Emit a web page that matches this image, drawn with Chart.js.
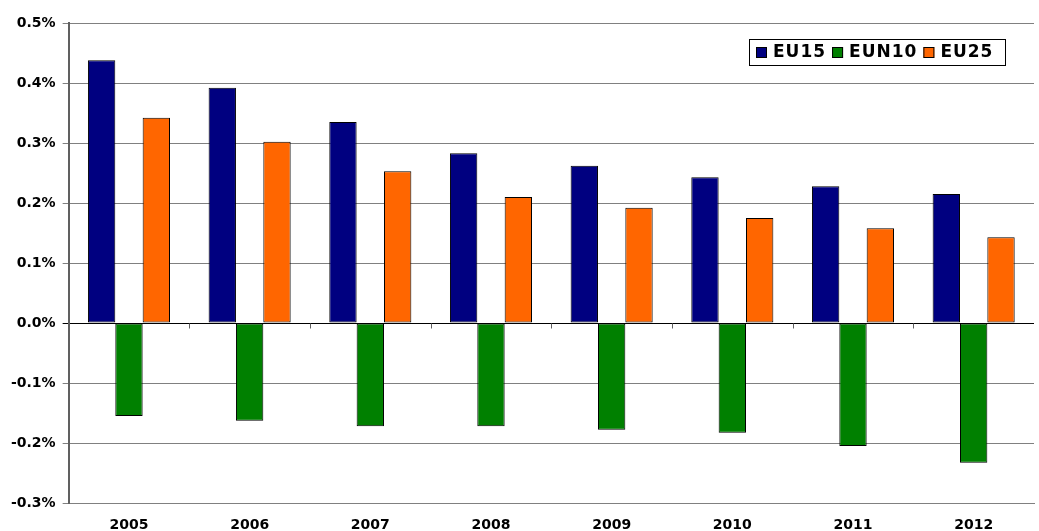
<!DOCTYPE html>
<html>
<head>
<meta charset="utf-8">
<script src="https://cdn.jsdelivr.net/npm/chart.js@4"></script>
<style>
  html, body { margin: 0; padding: 0; background: #fff; }
  #wrap { width: 1039px; height: 531px; }
</style>
</head>
<body>
<div id="wrap"><canvas id="myChart"></canvas></div>
<script>
var years = ["2005", "2006", "2007", "2008", "2009", "2010", "2011", "2012"];
var eu15 = [0.438, 0.392, 0.335, 0.283, 0.262, 0.243, 0.228, 0.215];
var eun10 = [-0.155, -0.163, -0.172, -0.172, -0.178, -0.183, -0.205, -0.233];
var eu25 = [0.342, 0.302, 0.253, 0.210, 0.192, 0.175, 0.158, 0.143];

var FONT = '"DejaVu Sans", Verdana, sans-serif';

// legend box inside the plot + little category ticks on the zero line
var extras = {
  id: 'extras',
  afterDatasetsDraw: function (chart) {
    var c = chart.ctx;
    var xs = chart.scales.x, ys = chart.scales.y;
    var y0 = Math.round(ys.getPixelForValue(0)) + 0.5;
    var half = (xs.getPixelForValue(1) - xs.getPixelForValue(0)) / 2;
    c.save();
    c.strokeStyle = '#606060';
    c.lineWidth = 1;
    for (var i = 1; i < years.length; i++) {
      var px = Math.round(xs.getPixelForValue(i) - half) + 0.5;
      c.beginPath();
      c.moveTo(px, y0);
      c.lineTo(px, y0 + 5);
      c.stroke();
    }
    c.restore();
  },
  afterDraw: function (chart) {
    var c = chart.ctx;
    var x0 = 749, y0 = 39, w = 256, h = 26;
    c.save();
    c.fillStyle = '#fff';
    c.fillRect(x0, y0, w, h);
    c.strokeStyle = '#000';
    c.lineWidth = 1;
    c.strokeRect(x0 + 0.5, y0 + 0.5, w, h);
    c.font = 'bold 17px ' + FONT;
    c.letterSpacing = '1px';
    c.textBaseline = 'middle';
    var x = x0 + 7;
    chart.data.datasets.forEach(function (ds) {
      c.fillStyle = ds.backgroundColor;
      c.fillRect(x, y0 + 8, 11, 11);
      c.strokeStyle = '#000';
      c.strokeRect(x + 0.5, y0 + 8.5, 10, 10);
      c.fillStyle = '#000';
      c.fillText(ds.label, x + 17, y0 + 14);
      x += 17 + c.measureText(ds.label).width + 6;
    });
    c.restore();
  }
};

var ctx = document.getElementById("myChart").getContext('2d');
var myChart = new Chart(ctx, {
  type: 'bar',
  data: {
    labels: years,
    datasets: [{
      label: "EU15",
      data: eu15,
      backgroundColor: '#000080',
      borderColor: '#000',
      borderWidth: 1,
      borderSkipped: false
    }, {
      label: "EUN10",
      data: eun10,
      backgroundColor: '#008000',
      borderColor: '#000',
      borderWidth: 1,
      borderSkipped: false
    }, {
      label: "EU25",
      data: eu25,
      backgroundColor: '#FF6600',
      borderColor: '#000',
      borderWidth: 1,
      borderSkipped: false
    }]
  },
  plugins: [extras],
  options: {
    responsive: true,
    maintainAspectRatio: false,
    animation: false,
    layout: {
      padding: { left: 4, right: 5, top: 23, bottom: 0 }
    },
    datasets: {
      bar: {
        barPercentage: 1.0,
        categoryPercentage: 0.68
      }
    },
    plugins: {
      legend: { display: false },
      tooltip: { enabled: false }
    },
    scales: {
      x: {
        afterFit: function (scale) { scale.height = 28; },
        grid: { display: false, drawTicks: false },
        border: { color: '#808080', width: 1 },
        ticks: {
          color: '#000',
          padding: 14,
          font: { family: FONT, size: 14, weight: 'bold' }
        }
      },
      y: {
        min: -0.3,
        max: 0.5,
        border: { color: '#606060', width: 2 },
        grid: {
          color: function (c) { return c.tick && Math.abs(c.tick.value) < 1e-9 ? '#000' : '#808080'; },
          lineWidth: 1,
          tickLength: 6
        },
        ticks: {
          stepSize: 0.1,
          color: '#000',
          padding: 7,
          font: { family: FONT, size: 14, weight: 'bold' },
          callback: function (v) { return v.toFixed(1) + '%'; }
        }
      }
    }
  }
});
</script>
</body>
</html>
